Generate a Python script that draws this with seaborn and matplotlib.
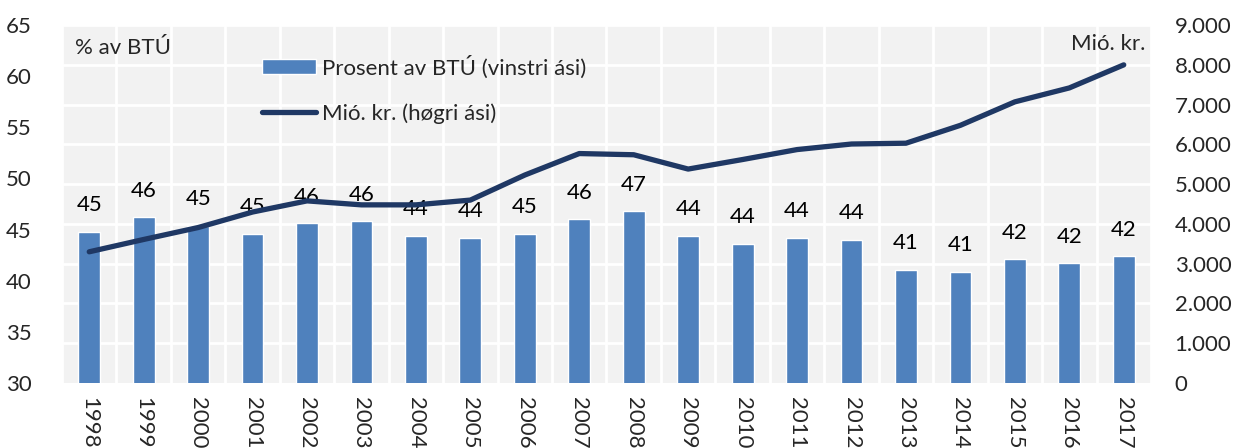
import matplotlib
matplotlib.use("Agg")
import matplotlib.pyplot as plt
import matplotlib.ticker as mticker
import numpy as np
import pandas as pd
import seaborn as sns

years = [str(y) for y in range(1998, 2018)]
pct_bvt = [44.8, 46.2, 45.4, 44.6, 45.6, 45.8, 44.4, 44.2, 44.6, 46.0,
           46.8, 44.4, 43.6, 44.2, 44.0, 41.1, 40.9, 42.1, 41.7, 42.4]
mio_kr = [3300, 3610, 3910, 4300, 4580, 4480, 4480, 4600, 5230, 5770,
          5740, 5380, 5620, 5870, 6010, 6030, 6480, 7070, 7420, 8000]

left_ticks = list(range(30, 70, 5))
right_ticks = list(range(0, 10000, 1000))

bar_color = "#4F81BD"
line_color = "#1F3864"
fs = 16

df = pd.DataFrame({"year": years, "pct": pct_bvt, "mkr": mio_kr})

sns.set_style("white")
plt.rcParams["font.family"] = ["Lato", "DejaVu Sans"]

fig = plt.figure(figsize=(12.38, 4.48), dpi=100)
ax = fig.add_axes([0.0501, 0.145, 0.8796, 0.799])
ax.set_facecolor("#F2F2F2")

sns.barplot(data=df, x="year", y="pct", color=bar_color, width=0.4,
            saturation=1, ax=ax, zorder=2, label="Prosent av BTÚ (vinstri ási)")

ax.set_ylim(30, 65)
ax.set_xlim(-0.5, len(years) - 0.5)
ax.set_yticks(left_ticks)

# grid follows the right axis, drawn behind the bars
for v in right_ticks[1:]:
    ax.axhline(30 + v / 9000 * 35, color="white", lw=2, zorder=0)
for i in range(len(years) + 1):
    ax.axvline(i - 0.5, color="white", lw=2, zorder=0)

# data labels
for i, v in enumerate(pct_bvt):
    ax.annotate(f"{v:.0f}", (i, v), xytext=(0, 12), textcoords="offset points",
                ha="center", va="bottom", fontsize=fs, color="black", zorder=5)

ax.set_xlabel("")
ax.set_ylabel("")
ax.tick_params(axis="y", labelsize=fs, length=0, pad=22)
ax.tick_params(axis="x", labelsize=fs, length=0, pad=10, labelrotation=270)
for lbl in ax.get_xticklabels():
    lbl.set_va("top")
for s in ax.spines.values():
    s.set_visible(False)

ax2 = ax.twinx()
sns.lineplot(x=np.arange(len(years)), y=mio_kr, color=line_color, lw=3.8,
             ax=ax2, label="Mió. kr. (høgri ási)")
ax2.set_ylim(0, 9000)
ax2.set_yticks(right_ticks)
ax2.yaxis.set_major_formatter(mticker.FuncFormatter(lambda v, p: f"{int(v):,}".replace(",", ".")))
ax2.tick_params(axis="y", labelsize=fs, length=0, pad=17)
for s in ax2.spines.values():
    s.set_visible(False)

ax.text(0.012, 0.965, "% av BTÚ", transform=ax.transAxes, fontsize=fs, va="top")
ax.text(0.9945, 0.975, "Mió. kr.", transform=ax.transAxes, fontsize=fs, va="top", ha="right")

# combined legend
h1, l1 = ax.get_legend_handles_labels()
h2, l2 = ax2.get_legend_handles_labels()
ax2.get_legend().remove()
leg = ax.legend(h1 + h2, l1 + l2, loc="upper left", bbox_to_anchor=(0.184, 0.915),
                frameon=False, fontsize=fs, handlelength=2.4, handleheight=0.65,
                labelspacing=1.1, handletextpad=0.28, borderpad=0, borderaxespad=0)
leg.set_zorder(6)

fig.savefig("out.png", dpi=100)
